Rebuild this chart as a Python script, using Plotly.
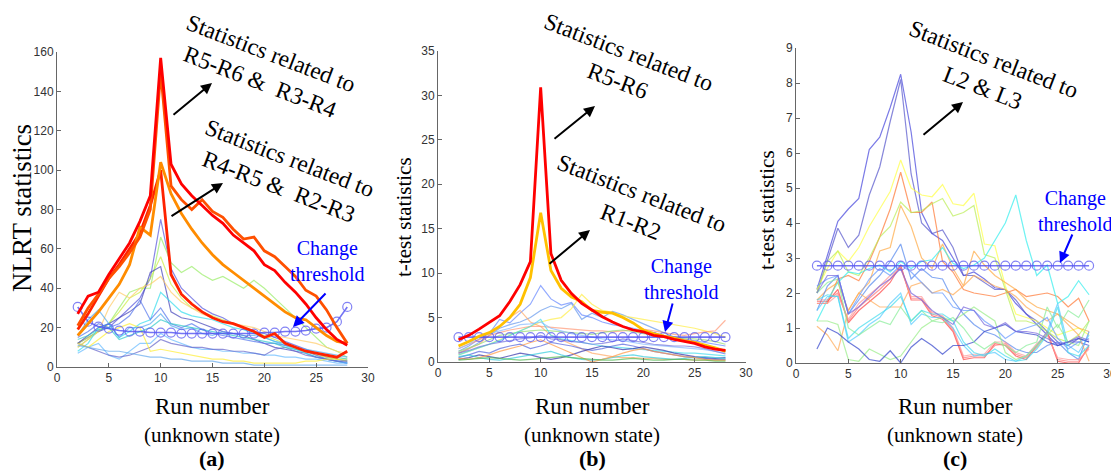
import plotly.graph_objects as go

W, H = 1119, 472
OFF = 8  # page body margin in the browser
runs = list(range(2, 29))

# ---------------- Panel (a): NLRT statistics ----------------
a_thick_colors = ["#FF0000", "#FF5000", "#FF8C00", "#FF2200"]
a_thick = [
    [27, 36, 38, 47, 55, 63, 74, 87, 157, 103, 93, 87, 82, 77, 73, 67, 63, 59, 52, 49, 43, 38, 32, 25, 19, 14, 11],
    [21, 30, 37, 45, 51, 58, 66, 80, 150, 92, 85, 80, 85, 79, 76, 70, 65, 66, 59, 56, 51, 46, 39, 36, 29, 20, 12],
    [16, 22, 28, 35, 42, 52, 71, 67, 104, 88, 78, 70, 63, 57, 52, 48, 44, 40, 36, 32, 28, 25, 24, 20, 16, 13, 12],
    [19, 27, 36, 45, 52, 60, 68, 82, 100, 47, 37, 32, 28, 25, 23, 22, 20, 18, 15, 17, 12, 10, 8, 7, 6, 5, 8],
]
a_thin_colors = ["#5555DD", "#99EE66", "#CCEE44", "#4444BB", "#FFCC66", "#33DDEE",
                 "#5577EE", "#55AAEE", "#66BBFF", "#6666CC", "#FFEE33", "#66AAEE", "#33CCCC"]
a_thin = [
    [12, 15, 18, 20, 25, 30, 35, 45, 75, 50, 40, 35, 30, 27, 25, 22, 20, 18, 17, 15, 13, 11, 9, 7, 5, 4, 3],
    [10, 14, 18, 22, 30, 38, 40, 40, 66, 53, 48, 51, 47, 44, 46, 43, 40, 44, 40, 35, 30, 25, 20, 15, 10, 8, 5],
    [12, 15, 18, 22, 28, 35, 38, 45, 56, 42, 35, 30, 28, 26, 24, 22, 20, 18, 16, 14, 12, 10, 8, 6, 5, 4, 3],
    [12, 16, 20, 22, 25, 28, 32, 48, 51, 28, 25, 24, 22, 20, 18, 17, 16, 14, 12, 10, 9, 8, 7, 5, 4, 3, 2],
    [10, 14, 18, 30, 38, 35, 40, 42, 46, 38, 33, 30, 27, 25, 23, 22, 21, 20, 18, 16, 15, 14, 13, 12, 10, 8, 7],
    [8, 12, 20, 22, 15, 18, 22, 24, 38, 33, 28, 26, 25, 24, 22, 20, 19, 17, 15, 13, 11, 9, 7, 5, 4, 3, 2],
    [15, 18, 22, 20, 22, 26, 34, 24, 30, 22, 20, 22, 19, 17, 16, 15, 14, 13, 12, 12, 11, 10, 8, 6, 4, 3, 2],
    [16, 24, 29, 22, 15, 20, 20, 22, 27, 21, 19, 20, 17, 16, 18, 17, 16, 16, 15, 13, 12, 10, 9, 8, 7, 6, 5],
    [7, 10, 12, 6, 4, 8, 12, 12, 17, 14, 12, 10, 9, 9, 8, 8, 7, 7, 6, 6, 5, 5, 4, 4, 3, 2, 2],
    [12, 10, 8, 6, 5, 6, 8, 10, 14, 12, 11, 10, 10, 9, 9, 8, 8, 7, 6, 9, 10, 8, 6, 5, 4, 3, 3],
    [12, 10, 14, 18, 20, 22, 20, 8, 9, 8, 7, 6, 5, 4, 4, 3, 3, 2, 2, 2, 2, 2, 3, 3, 4, 4, 4],
    [11, 10, 9, 8, 8, 7, 6, 5, 5, 4, 4, 3, 3, 3, 2, 2, 2, 1, 1, 1, 1, 1, 1, 1, 1, 1, 1],
    [14, 16, 19, 20, 14, 16, 18, 20, 24, 22, 21, 20, 19, 18, 17, 16, 15, 14, 13, 12, 10, 9, 8, 7, 6, 5, 4],
]
a_threshold = [30.5, 23, 20.5, 19.5, 18.5, 18, 18, 17.5, 17.5, 17.5, 17, 17, 17, 17, 17, 17, 17, 17, 17.5, 17.5, 18, 18, 18.5, 19.5, 20, 23, 30.5]

# ---------------- Panel (b): t-test statistics ----------------
b_thick_colors = ["#FF0000", "#FFC000"]
b_thick = [
    [2.5, 3.0, 3.7, 4.5, 5.2, 6.8, 8.7, 11.3, 30.9, 12.2, 9.2, 7.7, 6.6, 5.85, 5.1, 4.5, 4.0, 3.6, 3.4, 3.0, 2.85, 2.55, 2.3, 2.1, 1.7, 1.45, 1.3],
    [1.8, 2.3, 2.9, 3.3, 4.0, 5.0, 6.5, 9.5, 16.8, 10.3, 8.3, 7.3, 6.8, 5.8, 5.6, 5.5, 5.0, 4.4, 3.6, 3.2, 2.9, 2.7, 2.4, 2.2, 1.9, 1.6, 1.2],
]
b_thin_colors = ["#6688FF", "#6699EE", "#FFEE44", "#FFAA66", "#FF9977", "#99DD77", "#44DDEE",
                 "#88BBFF", "#5566DD", "#3333AA", "#33CCDD", "#FF9944", "#55BB55", "#7777DD"]
b_thin = [
    [1.2, 1.8, 2.6, 3.2, 4.8, 4.4, 5.5, 6.5, 8.6, 7.1, 6.4, 6.7, 5.3, 5.0, 4.5, 4.2, 4.0, 3.8, 3.5, 3.3, 3.0, 2.8, 2.6, 2.4, 2.2, 2.0, 1.8],
    [1.0, 1.5, 2.2, 3.0, 3.8, 4.2, 4.5, 5.0, 5.8, 6.3, 6.0, 6.6, 4.8, 5.5, 5.0, 5.7, 5.3, 4.8, 4.3, 3.8, 3.3, 2.8, 2.5, 2.2, 1.8, 1.5, 1.2],
    [0.8, 1.2, 1.6, 2.0, 2.5, 3.0, 3.5, 4.0, 4.5, 4.8, 5.0, 6.0, 7.6, 6.5, 5.8, 5.6, 5.2, 5.0, 4.8, 4.6, 4.4, 4.2, 4.0, 3.8, 3.5, 3.2, 2.8],
    [1.0, 1.5, 2.0, 3.0, 4.0, 5.0, 5.8, 4.5, 4.0, 3.0, 2.5, 2.0, 1.5, 1.0, 0.8, 0.6, 0.5, 0.5, 0.4, 0.4, 0.3, 0.3, 0.3, 0.2, 0.2, 0.2, 0.2],
    [1.5, 2.0, 2.5, 3.0, 3.3, 3.6, 3.8, 4.0, 4.0, 3.9, 3.8, 3.7, 3.6, 3.5, 3.5, 3.4, 3.5, 3.6, 3.7, 3.5, 3.3, 3.1, 3.0, 3.2, 3.4, 3.5, 4.7],
    [1.2, 1.6, 2.0, 2.5, 3.0, 3.2, 3.4, 3.5, 3.6, 3.5, 3.4, 3.3, 3.2, 3.1, 3.3, 3.5, 3.6, 3.4, 3.2, 3.0, 2.9, 2.8, 2.7, 2.6, 2.5, 2.3, 2.0],
    [0.8, 1.2, 1.6, 2.0, 2.4, 3.0, 3.5, 4.0, 4.8, 3.0, 2.6, 2.4, 2.2, 2.0, 1.8, 1.7, 1.6, 1.5, 1.4, 1.3, 1.2, 1.1, 1.0, 1.0, 0.9, 0.8, 0.7],
    [1.5, 2.0, 2.8, 3.2, 3.5, 3.8, 4.2, 4.3, 4.5, 3.8, 3.5, 3.2, 3.0, 2.8, 2.6, 2.5, 2.4, 2.2, 2.0, 1.9, 1.8, 1.7, 1.6, 1.5, 1.4, 1.2, 1.0],
    [0.5, 0.8, 1.2, 1.0, 1.5, 1.8, 2.0, 1.5, 1.8, 2.2, 2.0, 1.8, 1.5, 1.3, 1.5, 1.8, 2.0, 1.8, 1.5, 1.2, 1.0, 0.8, 0.6, 0.5, 0.4, 0.3, 0.3],
    [0.3, 0.5, 0.8, 0.6, 0.4, 0.7, 1.0, 0.8, 0.5, 0.3, 0.5, 0.8, 1.2, 1.5, 1.8, 1.6, 1.4, 1.5, 1.7, 1.5, 1.3, 1.0, 0.8, 0.6, 0.5, 0.4, 0.5],
    [0.6, 0.8, 0.5, 0.3, 0.2, 0.4, 0.6, 0.8, 1.0, 1.2, 0.8, 0.5, 0.3, 0.2, 0.3, 0.5, 0.7, 0.8, 0.6, 0.5, 0.4, 0.3, 0.4, 0.5, 0.6, 0.5, 0.4],
    [0.4, 0.3, 0.5, 0.8, 1.2, 1.5, 1.8, 2.2, 2.5, 2.0, 1.5, 1.0, 0.5, 0.0, 0.3, 0.6, 1.0, 1.3, 1.5, 1.2, 1.0, 0.8, 0.6, 0.5, 0.3, 0.2, 0.2],
    [0.2, 0.3, 0.4, 0.5, 0.4, 0.3, 0.2, 0.3, 0.4, 0.5, 0.6, 0.5, 0.4, 0.3, 0.2, 0.2, 0.3, 0.4, 0.3, 0.2, 0.2, 0.3, 0.3, 0.2, 0.2, 0.1, 0.1],
    [1.0, 1.3, 1.7, 2.0, 2.2, 2.4, 2.6, 2.7, 3.0, 2.6, 2.5, 2.3, 2.2, 2.0, 2.1, 2.3, 2.6, 2.4, 2.2, 2.0, 1.9, 1.8, 1.8, 1.7, 1.5, 1.2, 0.9],
]
b_threshold = [2.8] * 27

# ---------------- Panel (c): t-test statistics ----------------
c_thin_colors = ["#4444DD", "#5555CC", "#FFFF44", "#FF7733", "#BBEE55", "#FFAA44", "#33EEEE",
                 "#5588EE", "#FF4444", "#FF7777", "#FF9999", "#FFAA55", "#55CCFF", "#99EE88",
                 "#3344CC", "#88EE99", "#44DDEE", "#6699FF", "#7766DD"]
c_thin = [
    [2.1, 3.1, 4.05, 4.4, 4.7, 6.1, 6.45, 7.3, 8.25, 6.6, 4.3, 3.7, 3.5, 3.0, 2.5, 2.6, 2.4, 2.15, 2.1, 1.7, 1.4, 1.1, 0.8, 0.5, 0.6, 0.6, 0.5],
    [2.0, 2.9, 3.85, 3.3, 3.65, 4.8, 5.6, 6.9, 8.1, 5.4, 4.0, 3.7, 3.8, 3.3, 2.5, 2.5, 2.3, 2.1, 2.1, 1.8, 1.4, 1.2, 0.9, 0.6, 0.5, 0.7, 0.6],
    [2.1, 2.7, 3.2, 2.9, 3.3, 3.9, 4.4, 4.9, 5.8, 5.0, 4.8, 4.75, 5.1, 4.55, 4.5, 4.85, 3.4, 3.35, 2.2, 1.4, 1.3, 1.2, 1.0, 0.8, 0.9, 1.0, 0.8],
    [1.7, 1.7, 2.4, 2.5, 2.35, 2.9, 3.6, 4.4, 5.45, 4.3, 4.3, 4.6, 2.9, 2.6, 2.1, 2.0, 1.95, 1.9, 2.0, 2.1, 1.9, 1.95, 2.0, 1.9, 1.6, 1.85, 1.2],
    [2.0, 2.9, 3.2, 2.6, 2.5, 3.0, 3.6, 3.9, 4.6, 4.3, 4.35, 4.55, 4.7, 4.2, 4.3, 4.5, 3.1, 3.0, 2.1, 1.2, 1.2, 1.1, 0.9, 0.7, 0.6, 0.8, 1.2],
    [1.8, 2.1, 2.3, 1.5, 2.0, 2.3, 3.2, 3.3, 4.5, 3.9, 3.0, 2.7, 3.4, 2.7, 2.2, 3.2, 2.8, 2.5, 2.3, 2.1, 1.8, 1.6, 1.5, 1.4, 1.2, 1.0, 0.9],
    [1.2, 1.8, 2.3, 2.6, 2.55, 2.7, 2.8, 2.6, 2.9, 2.7, 2.9, 2.95, 3.3, 2.85, 2.7, 2.8, 3.0, 3.5, 4.0, 4.8, 3.5, 2.5, 2.8, 1.7, 1.9, 2.35, 1.95],
    [1.5, 2.2, 2.5, 1.4, 1.8, 2.2, 2.5, 2.9, 3.4, 2.4, 2.7, 2.45, 2.4, 1.8, 1.4, 1.1, 0.9, 0.8, 0.6, 0.4, 0.3, 0.3, 0.5, 0.6, 0.3, 0.1, 0.9],
    [1.75, 1.75, 2.1, 1.15, 1.5, 1.75, 2.0, 2.3, 2.8, 1.8, 1.8, 1.35, 1.25, 0.9, 0.1, 0.15, 0.15, 0.55, 0.5, 0.2, 0.1, 0.5, 0.9, 0.05, 0.0, 0.0, 0.5],
    [1.8, 1.8, 2.0, 1.2, 1.6, 1.85, 2.1, 2.4, 2.75, 1.85, 1.85, 1.4, 1.3, 0.95, 0.15, 0.2, 0.2, 0.5, 0.55, 0.25, 0.15, 0.45, 0.85, 0.1, 0.05, 0.05, 0.45],
    [1.7, 1.7, 1.95, 1.25, 1.7, 1.95, 2.2, 2.5, 2.7, 1.9, 1.9, 1.45, 1.35, 1.0, 0.2, 0.25, 0.25, 0.6, 0.6, 0.3, 0.2, 0.55, 0.8, 0.15, 0.1, 0.1, 0.4],
    [1.05, 0.8, 0.35, 1.5, 2.0, 1.8, 1.6, 1.6, 1.6, 2.2, 2.3, 2.0, 2.1, 1.95, 2.2, 2.5, 2.35, 2.2, 2.1, 1.9, 1.6, 1.4, 1.2, 1.4, 1.1, 0.8, 0.05],
    [1.5, 1.9, 1.9, 0.6, 0.8, 1.1, 1.3, 1.7, 2.0, 1.1, 1.4, 1.3, 1.3, 1.0, 0.5, 0.2, 0.25, 0.3, 0.1, 0.05, 0.2, 0.5, 0.9, 1.7, 0.5, 0.3, 0.8],
    [1.2, 1.2, 1.1, 0.1, 0.05, 0.4, 0.25, 0.1, 0.2, 0.6, 1.0, 1.2, 1.3, 1.2, 1.4, 1.6, 1.4, 1.2, 0.3, 0.1, 0.2, 0.5, 0.8, 1.1, 0.6, 0.5, 1.2],
    [0.4, 1.0, 0.85, 0.6, 0.4, 0.1, 0.05, 0.35, 0.0, 0.45, 0.7, 0.5, 0.25, 0.5, 0.5, 0.6, 0.9, 1.0, 1.1, 0.9, 0.85, 0.8, 0.6, 0.5, 0.6, 0.7, 0.6],
    [2.0, 2.3, 2.4, 1.0, 0.8, 1.0, 1.2, 1.1, 1.6, 1.2, 1.5, 1.2, 1.15, 1.3, 1.0, 0.6, 0.4, 0.6, 0.5, 0.3, 0.5, 0.6, 1.6, 1.0, 1.5, 1.3, 1.8],
    [1.8, 1.95, 1.9, 0.7, 1.0, 1.2, 1.4, 1.6, 1.9, 1.2, 1.5, 1.4, 1.4, 1.2, 0.6, 0.3, 0.2, 0.4, 0.2, 0.05, 0.1, 0.4, 0.8, 1.6, 0.3, 0.2, 0.5],
    [2.2, 2.4, 2.5, 1.4, 1.9, 2.4, 2.7, 2.5, 2.8, 2.6, 2.3, 2.0, 2.0, 1.6, 1.5, 1.5, 1.2, 1.0, 0.7, 0.9, 1.0, 1.1, 1.3, 0.7, 0.4, 0.6, 0.7],
    [2.0, 2.5, 2.5, 1.4, 1.6, 1.9, 2.2, 2.4, 2.7, 2.0, 1.8, 1.5, 1.3, 1.1, 1.6, 1.5, 1.1, 1.0, 1.15, 0.9, 0.9, 0.85, 0.7, 0.55, 0.6, 0.75, 0.65],
]
c_threshold = [2.78] * 27

y_ranges = [[0, 160], [0, 35], [0, 9]]
y_dtick = [20, 5, 1]
y_titles = ["NLRT statistics", "t-test statistics", "t-test statistics"]
panel_tags = ["(a)", "(b)", "(c)"]

# ---------------- figure ----------------
FW, FH = W - OFF, H - OFF
fig = go.Figure()


def px(x):
    return (x - OFF) / FW


def py(y):
    return 1 - (y - OFF) / FH


# axes boxes in screen pixels: (left, right, top, bottom)
boxes = [(57, 368, 52, 367), (438, 746, 51, 362), (796, 1110, 48, 363)]


def axname(i, letter):
    return letter + ("" if i == 0 else str(i + 1))


def add_line(ax_i, ys, color, width, opacity=1.0):
    fig.add_trace(go.Scatter(
        x=runs, y=ys, mode="lines", xaxis=axname(ax_i, "x"), yaxis=axname(ax_i, "y"),
        line=dict(color=color, width=width), opacity=opacity,
        showlegend=False, hoverinfo="skip"))


def add_threshold(ax_i, ys):
    fig.add_trace(go.Scatter(
        x=runs, y=ys, mode="lines+markers", xaxis=axname(ax_i, "x"), yaxis=axname(ax_i, "y"),
        line=dict(color="rgba(70,70,240,0.75)", width=1.6),
        marker=dict(symbol="circle-open", size=9, color="rgba(90,90,240,0.75)", line=dict(width=1.2)),
        showlegend=False, hoverinfo="skip"))


# panel a
for ys, col in zip(a_thin, a_thin_colors):
    add_line(0, ys, col, 1.2, 0.7)
add_threshold(0, a_threshold)
for ys, col in zip(a_thick[::-1], a_thick_colors[::-1]):
    add_line(0, ys, col, 2.8)

# panel b
for ys, col in zip(b_thin, b_thin_colors):
    add_line(1, ys, col, 1.2, 0.7)
add_threshold(1, b_threshold)
for ys, col in zip(b_thick[::-1], b_thick_colors[::-1]):
    add_line(1, ys, col, 2.8)

# panel c
for ys, col in zip(c_thin, c_thin_colors):
    add_line(2, ys, col, 1.2, 0.7)
add_threshold(2, c_threshold)

layout = dict(
    width=FW, height=FH, margin=dict(l=0, r=0, t=0, b=0, pad=0, autoexpand=False),
    paper_bgcolor="white", plot_bgcolor="white", showlegend=False,
)
tickfont = dict(family="Arial, Liberation Sans", size=12, color="#333")
for i, (l, r, t, b) in enumerate(boxes):
    layout[axname(i, "xaxis")] = dict(
        domain=[px(l), px(r)], range=[0, 30], dtick=5, tick0=0,
        anchor=axname(i, "y"), showgrid=False, zeroline=False, automargin=False,
        showline=True, linecolor="#666", linewidth=1, ticks="inside", ticklen=4,
        tickcolor="#666", tickfont=tickfont, fixedrange=True)
    layout[axname(i, "yaxis")] = dict(
        domain=[py(b), py(t)], range=y_ranges[i], dtick=y_dtick[i], tick0=0,
        anchor=axname(i, "x"), showgrid=False, zeroline=False, automargin=False,
        showline=True, linecolor="#666", linewidth=1, ticks="inside", ticklen=4,
        tickcolor="#666", tickfont=tickfont, fixedrange=True)
fig.update_layout(**layout)

serif = "Times New Roman, Liberation Serif, serif"
ann = []


def text_ann(x, y, txt, size, color="black", angle=0):
    ann.append(dict(x=px(x), y=py(y), xref="paper", yref="paper", text=txt, showarrow=False,
                    textangle=angle, font=dict(family=serif, size=size, color=color),
                    xanchor="center", yanchor="middle"))


# y-axis titles
ytitle_pos = [(22, 208, 27), (404, 217, 21), (767, 210, 21)]
for (xx, yy, fs), txt in zip(ytitle_pos, y_titles):
    text_ann(xx, yy, txt, fs, angle=-90)

# x-axis titles + panel tags
centers = [212, 592, 955]
for cx, tag in zip(centers, panel_tags):
    text_ann(cx, 406, "Run number", 23)
    text_ann(cx, 435, "(unknown state)", 21)
    text_ann(cx, 458, "<b>" + tag + "</b>", 22)

# rotated statistics labels
stat_labels = [
    ("Statistics related to<br>R5-R6 &amp;  R3-R4", 265, 68),
    ("Statistics related to<br>R4-R5 &amp;  R2-R3", 284, 172),
    ("Statistics related to<br>R5-R6", 623, 66),
    ("Statistics related to<br>R1-R2", 636, 207),
    ("Statistics related to<br>L2 &amp; L3", 988, 73),
]
for txt, cx, cy in stat_labels:
    text_ann(cx, cy, txt, 23.5, angle=21)

# black arrows (head x, head y, tail offset)
black_arrows = [(212, 83, -40, 33), (223, 183, -53, 34), (595, 106, -42, 34),
                (590, 230, -42, 35), (963, 102, -41, 34)]
for hx, hy, dx, dy in black_arrows:
    ann.append(dict(x=px(hx), y=py(hy), xref="paper", yref="paper", text="", showarrow=True,
                    ax=dx, ay=dy, axref="pixel", ayref="pixel", arrowhead=2, arrowsize=1.1,
                    arrowwidth=2, arrowcolor="black"))

# change threshold labels and blue arrows
ct_labels = [(327, 261), (681, 279), (1075, 211)]
for cx, cy in ct_labels:
    text_ann(cx, cy, "Change<br>threshold", 20, color="#0000FF")
blue_arrows = [(293, 327, 34, -35), (665, 332, 8, -30), (1060, 263, 13, -30)]
for hx, hy, dx, dy in blue_arrows:
    ann.append(dict(x=px(hx), y=py(hy), xref="paper", yref="paper", text="", showarrow=True,
                    ax=dx, ay=dy, axref="pixel", ayref="pixel", arrowhead=2, arrowsize=1.1,
                    arrowwidth=2, arrowcolor="#0000FF"))

fig.update_layout(annotations=ann)
fig.write_html("out.html")
